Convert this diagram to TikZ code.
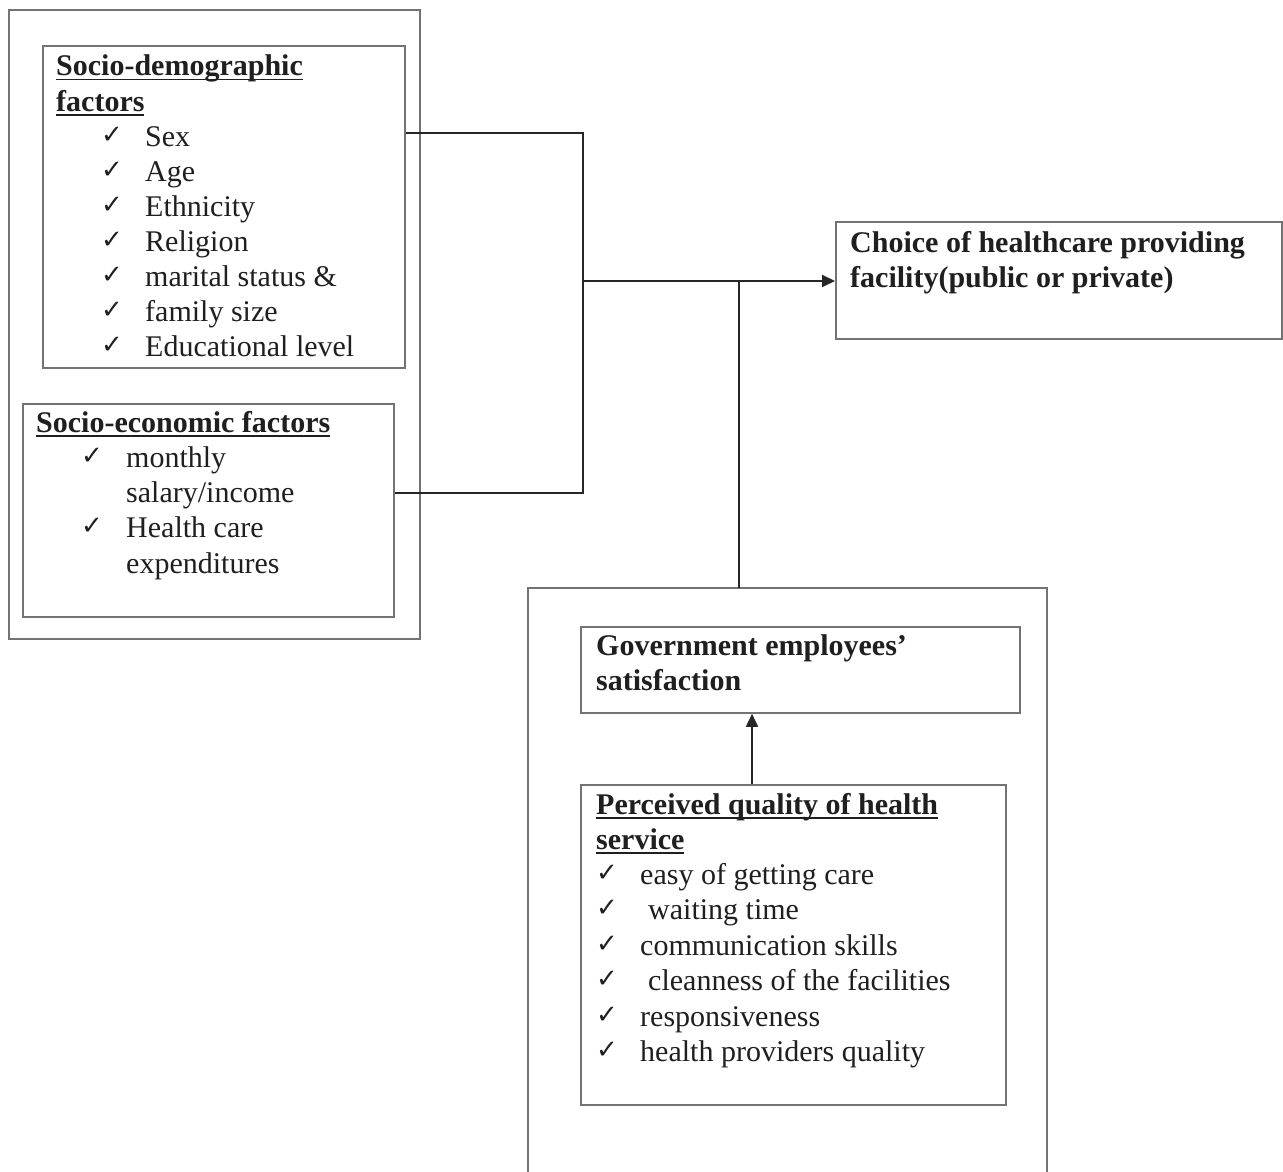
\documentclass[tikz,border=0pt]{standalone}
\usepackage{fontspec}
\setmainfont{Liberation Serif}
\newfontfamily\symfont{DejaVu Sans}
\usetikzlibrary{arrows.meta}
\newcommand\myul[1]{\setbox0\hbox{#1}\rlap{\rule[-4.5pt]{\wd0}{1.6pt}}\box0}
\tikzset{
  box/.style={draw=black!55, line width=1.8pt, inner sep=0pt, anchor=north west},
  txt/.style={anchor=base west, inner sep=0pt, text=black!88, font=\fontsize{30}{35.5}\selectfont},
  hd/.style={txt, font=\fontsize{30}{35.5}\selectfont\bfseries},
  chk/.style={anchor=base west, inner sep=0pt, text=black!88, font=\fontsize{26}{30}\symfont},
  conn/.style={draw=black!85, line width=1.8pt},
  tip/.style={-{Triangle[length=13pt,width=12pt]}}
}
\begin{document}
\begin{tikzpicture}[x=1pt,y=-1pt]
\useasboundingbox (0,0) rectangle (1283,1172);
\fill[white] (0,0) rectangle (1283,1172);
% boxes
\node[box, minimum width=411pt, minimum height=629pt] (outerL) at (8,9) {};
\node[box, minimum width=362pt, minimum height=322pt] (sd) at (42,45) {};
\node[box, minimum width=371pt, minimum height=213pt] (se) at (22,403) {};
\node[box, minimum width=446pt, minimum height=117pt] (choice) at (835,221) {};
\node[box, minimum width=439pt, minimum height=86pt] (gov) at (580,626) {};
\node[box, minimum width=425pt, minimum height=320pt] (pq) at (580,784) {};
\draw[draw=black!55, line width=1.8pt] (528,1180) -- (528,588) -- (1047,588) -- (1047,1180);
% sd text
\node[hd] (sdh1) at (56,76) {\myul{Socio-demographic}};
\node[hd] (sdh2) at (56,111) {\myul{factors}};
\foreach \t [count=\i] in {Sex,Age,Ethnicity,Religion,marital status \&,family size,Educational level}{
  \node[chk] (sdc\i) at (101,{108+35*\i}) {✓};
  \node[txt] (sdt\i) at (145,{111+35*\i}) {\t};
}
% se text
\node[hd] (seh) at (36,432) {\myul{Socio-economic factors}};
\node[chk] (sec1) at (81,464) {✓};
\node[txt] (set1) at (126,467) {monthly};
\node[txt] (set2) at (126,502) {salary/income};
\node[chk] (sec2) at (81,534) {✓};
\node[txt] (set3) at (126,537) {Health care};
\node[txt] (set4) at (126,573) {expenditures};
% choice text
\node[hd] (ch1) at (850,252) {Choice of healthcare providing};
\node[hd] (ch2) at (850,287) {facility(public or private)};
% gov text
\node[hd] (gv1) at (596,655) {Government employees’};
\node[hd] (gv2) at (596,690) {satisfaction};
% pq text
\node[hd] (pqh1) at (596,814) {\myul{Perceived quality of health}};
\node[hd] (pqh2) at (596,849) {\myul{service}};
\foreach \t/\x [count=\i] in {easy of getting care/640, waiting time/648, communication skills/640, cleanness of the facilities/648, responsiveness/640, health providers quality/640}{
  \node[chk] (pqc\i) at (596,{845.5+35.5*\i}) {✓};
  \node[txt] (pqt\i) at (\x,{848.5+35.5*\i}) {\t};
}
% connectors
\coordinate (j1) at (583,133);
\coordinate (j2) at (583,493);
\coordinate (j3) at (583,281);
\coordinate (j4) at (739,281);
\coordinate (j5) at (739,588);
\coordinate (a1) at (752,784);
\draw[conn] (sd.east |- j1) -- (j1) -- (j2) -- (se.east |- j2);
\draw[conn, tip] (j3) -- (choice.west |- j3);
\draw[conn] (j5) -- (j4);
\draw[conn, tip] (pq.north -| a1) -- (gov.south -| a1);
\end{tikzpicture}
\end{document}
